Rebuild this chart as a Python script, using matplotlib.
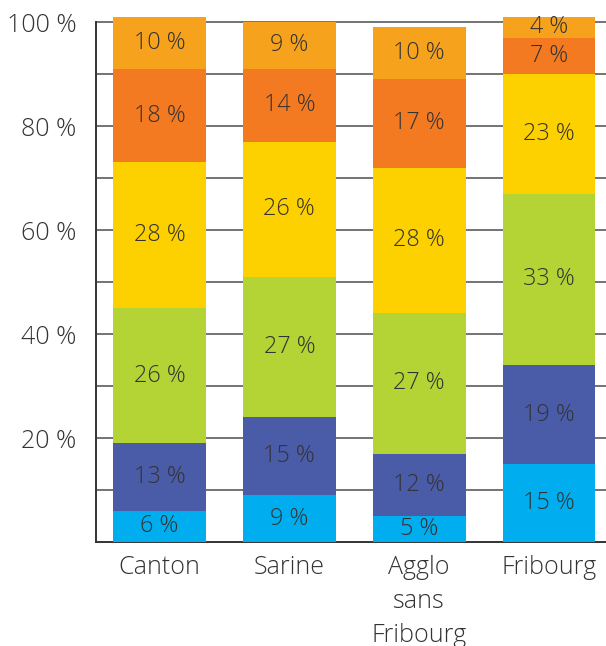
import matplotlib.pyplot as plt
import numpy as np

plt.rcParams['font.family'] = ['Open Sans', 'DejaVu Sans']

categories = ["Canton", "Sarine", "Agglo\nsans\nFribourg", "Fribourg"]
# segments from bottom to top
seg1 = [6, 9, 5, 15]
seg2 = [13, 15, 12, 19]
seg3 = [26, 27, 27, 33]
seg4 = [28, 26, 28, 23]
seg5 = [18, 14, 17, 7]
seg6 = [10, 9, 10, 4]
series = [seg1, seg2, seg3, seg4, seg5, seg6]
seg_colors = ['#00ADEE', '#4A5BA7', '#B4D334', '#FDD100', '#F47A21', '#F6A21D']

text_color = '#333333'

fig = plt.figure(figsize=(6.06, 6.46), dpi=100)
ax = fig.add_axes([96 / 606, 104 / 646, 510 / 606, (542 - 11.6) / 646])

x = np.arange(len(categories))
bottom = np.zeros(len(categories))
for vals, col in zip(series, seg_colors):
    vals = np.array(vals, dtype=float)
    ax.bar(x, vals, bottom=bottom, width=0.715, color=col, zorder=3)
    for xi, b, v in zip(x, bottom, vals):
        ax.text(xi, b + v / 2, f"{int(v)} %", ha='center', va='center',
                fontsize=16.8, color=text_color, fontweight='light', zorder=4)
    bottom += vals

ax.set_xlim(-0.49, 3.44)
ax.set_ylim(0, 102)
ax.set_yticks([20, 40, 60, 80, 100])
ax.set_yticklabels([f"{v} %" for v in [20, 40, 60, 80, 100]])
ax.set_yticks(np.arange(10, 101, 10), minor=True)
ax.grid(True, axis='y', which='both', color='#4d4d4d', linewidth=1.1, zorder=1)
ax.set_axisbelow(True)

ax.set_xticks(x)
ax.set_xticklabels(categories, linespacing=1.5)
ax.tick_params(axis='both', which='both', length=0, labelsize=18, labelcolor=text_color)
ax.tick_params(axis='y', pad=14)
ax.tick_params(axis='x', pad=9)
for lbl in ax.get_xticklabels() + ax.get_yticklabels():
    lbl.set_fontweight('light')

for s in ['top', 'right']:
    ax.spines[s].set_visible(False)
ax.spines['left'].set_bounds(0, 100)
for s in ['left', 'bottom']:
    ax.spines[s].set_color('#333333')
    ax.spines[s].set_linewidth(1.4)

fig.savefig('out.png', dpi=100)
